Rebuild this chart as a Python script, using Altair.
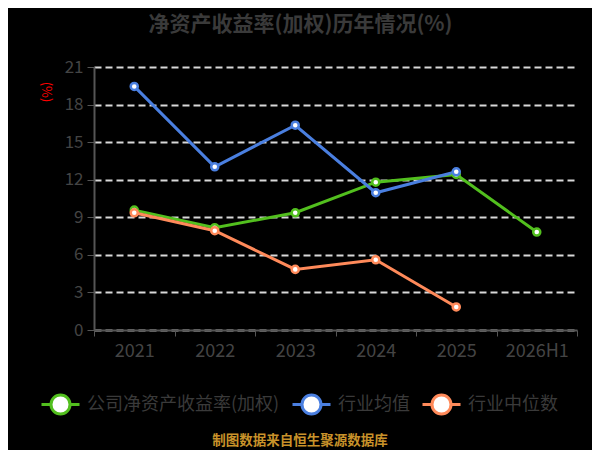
import altair as alt
import pandas as pd

years = ["2021", "2022", "2023", "2024", "2025", "2026H1"]
series_names = ["公司净资产收益率(加权)", "行业均值", "行业中位数"]
company = [9.57, 8.17, 9.36, 11.80, 12.42, 7.82]
ind_mean = [19.45, 13.03, 16.35, 10.96, 12.63, None]
ind_median = [9.36, 7.93, 4.84, 5.61, 1.84, None]
colors = ["#52bf1e", "#4a7fe0", "#ff8a5a"]
y_ticks = [0, 3, 6, 9, 12, 15, 18, 21]
title_text = "净资产收益率(加权)历年情况(%)"
source_text = "制图数据来自恒生聚源数据库"
unit_text = "(%)"

rows = []
for name, vals in zip(series_names, [company, ind_mean, ind_median]):
    for yr, v in zip(years, vals):
        if v is not None:
            rows.append({"year": yr, "value": v, "series": name})
df = pd.DataFrame(rows)

FONT = "Noto Sans CJK SC"

x = alt.X("year:N", sort=years, title=None,
          scale=alt.Scale(domain=years, paddingInner=0, paddingOuter=0),
          axis=alt.Axis(labelAngle=0, labelFontSize=18, labelColor="#444444", labelPadding=6,
                        domainColor="#555555", domainWidth=2, tickColor="#555555", tickSize=6,
                        tickBand="extent", grid=False, labelFont=FONT))
y = alt.Y("value:Q", title=None,
          scale=alt.Scale(domain=[0, 21], nice=False),
          axis=alt.Axis(values=y_ticks, labelFontSize=17, labelColor="#444444", labelPadding=4,
                        domainColor="#555555", domainWidth=2, tickColor="#555555", tickSize=7,
                        grid=True, gridColor="#d8d8d8", gridDash=[7, 4], gridWidth=2,
                        labelFont=FONT))

color_scale = alt.Scale(domain=series_names, range=colors)

sym = "M-1,0H-0.5M0.5,0H1M0.5,0A0.5,0.5 0 1,1 -0.5,0A0.5,0.5 0 1,1 0.5,0Z"

lines = alt.Chart(df).mark_line(strokeWidth=3).encode(
    x=x, y=y,
    color=alt.Color("series:N", scale=color_scale, sort=series_names,
                    legend=alt.Legend(title=None, orient="none", direction="horizontal",
                                      legendX=-54, legendY=317,
                                      symbolType=sym, symbolSize=1444, symbolStrokeWidth=3,
                                      symbolFillColor="white",
                                      labelFontSize=18, labelColor="#3a3a3a", labelFont=FONT,
                                      labelOffset=6, columnPadding=6, labelLimit=400)),
)

points = alt.Chart(df).mark_point(shape="circle", filled=False, fill="white", fillOpacity=1,
                                   size=50, strokeWidth=2.5, opacity=1).encode(
    x=x, y=y,
    stroke=alt.Stroke("series:N", scale=color_scale, sort=series_names, legend=None),
)

unit = alt.Chart(pd.DataFrame({"t": [unit_text]})).mark_text(
    color="red", fontSize=13, angle=90, font=FONT
).encode(text="t:N", x=alt.value(-48), y=alt.value(25))

source = alt.Chart(pd.DataFrame({"t": [source_text]})).mark_text(
    color="#c8922a", fontSize=13.5, fontWeight="bold", font=FONT
).encode(text="t:N", x=alt.value(206), y=alt.value(374))

chart = alt.layer(lines, points, unit, source).properties(
    width=483, height=263,
    title=alt.TitleParams(title_text, fontSize=21, fontWeight="bold", color="#3a3a3a",
                          font=FONT, anchor="middle", dx=-35, offset=23),
    background="black",
    padding={"left": 86, "top": 59, "right": 15, "bottom": 120},
    autosize=alt.AutoSizeParams(type="none"),
).configure_view(stroke=None)

chart.save("out.html", embed_options={"renderer": "svg", "actions": False})
